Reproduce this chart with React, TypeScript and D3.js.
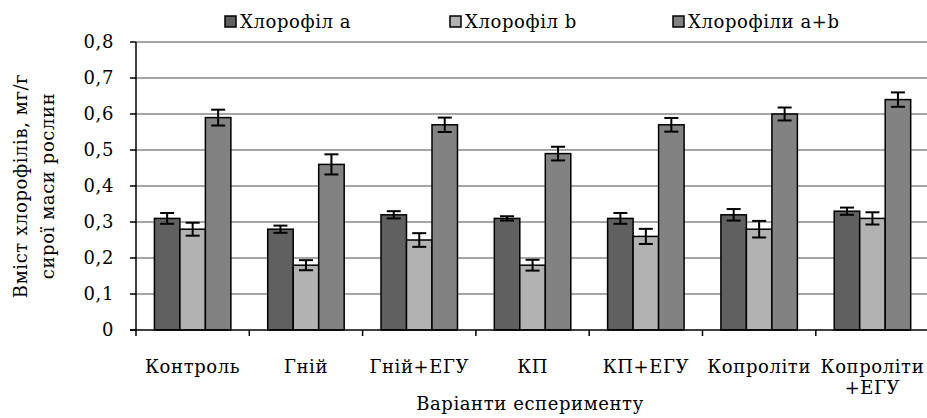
import React from "react";
import * as d3 from "d3";

// Chlorophyll content by experiment variant, mg/g of fresh plant mass
const categories = ["Контроль", "Гній", "Гній+ЕГУ", "КП", "КП+ЕГУ", "Копроліти", "Копроліти\n+ЕГУ"];
const seriesNames = ["Хлорофіл а", "Хлорофіл b", "Хлорофіли a+b"];
const chlA = [0.31, 0.28, 0.32, 0.31, 0.31, 0.32, 0.33];
const chlB = [0.28, 0.18, 0.25, 0.18, 0.26, 0.28, 0.31];
const chlAB = [0.59, 0.46, 0.57, 0.49, 0.57, 0.6, 0.64];
const errA = [0.015, 0.01, 0.01, 0.006, 0.015, 0.016, 0.01];
const errB = [0.018, 0.014, 0.019, 0.015, 0.021, 0.023, 0.017];
const errAB = [0.022, 0.028, 0.02, 0.019, 0.019, 0.018, 0.02];
const yTicks = [0, 0.1, 0.2, 0.3, 0.4, 0.5, 0.6, 0.7, 0.8];
const colors = ["#606060", "#b2b2b2", "#828282"];

const W = 927;
const H = 418;
const FONT = "DejaVu Serif";
const FS = 18;
const LS = 0.6;

export default function App() {
  const left = 136;
  const top = 42;
  const bottom = 330;
  const step = 113.3;
  const right = left + step * categories.length;

  const y = d3.scaleLinear().domain([0, 0.8]).range([bottom, top]);
  const x = d3
    .scaleBand<string>()
    .domain(categories)
    .range([left, right])
    .paddingInner(0.325)
    .paddingOuter(0.1625);
  const xs = d3.scaleBand<number>().domain([0, 1, 2]).range([0, x.bandwidth()]);

  const values = [chlA, chlB, chlAB];
  const errors = [errA, errB, errAB];
  const fmt = (v: number) => (v === 0 ? "0" : v.toFixed(1).replace(".", ","));

  const legendX = [225, 450, 673];
  const textStyle = { fontFamily: FONT, fontSize: FS, letterSpacing: LS };

  return (
    <svg
      width={W}
      height={H}
      style={{ position: "absolute", left: 0, top: 0, background: "#fff" }}
    >
      {/* gridlines */}
      {yTicks.slice(1).map((t) => (
        <line key={t} x1={left} x2={right} y1={y(t)} y2={y(t)} stroke="#a6a6a6" strokeWidth={2} />
      ))}

      {/* bars */}
      {categories.map((c, i) => (
        <g key={c} transform={`translate(${x(c)},0)`}>
          {values.map((vals, s) => (
            <rect
              key={s}
              x={xs(s)}
              y={y(vals[i])}
              width={xs.bandwidth()}
              height={bottom - y(vals[i])}
              fill={colors[s]}
              stroke="#000"
              strokeWidth={1.5}
            />
          ))}
        </g>
      ))}

      {/* error bars */}
      {categories.map((c, i) =>
        values.map((vals, s) => {
          const cx = (x(c) as number) + (xs(s) as number) + xs.bandwidth() / 2;
          const hi = y(vals[i] + errors[s][i]);
          const lo = y(vals[i] - errors[s][i]);
          return (
            <g key={`${c}-${s}`} stroke="#000" strokeWidth={2}>
              <line x1={cx} x2={cx} y1={hi} y2={lo} />
              <line x1={cx - 7} x2={cx + 7} y1={hi} y2={hi} />
              <line x1={cx - 7} x2={cx + 7} y1={lo} y2={lo} />
            </g>
          );
        })
      )}

      {/* axes */}
      <line x1={left} x2={left} y1={top} y2={bottom} stroke="#000" strokeWidth={1.5} />
      <line x1={left - 6} x2={right} y1={bottom} y2={bottom} stroke="#000" strokeWidth={1.5} />
      {yTicks.map((t) => (
        <g key={t}>
          <line x1={left - 6} x2={left} y1={y(t)} y2={y(t)} stroke="#000" strokeWidth={1.5} />
          <text x={114} y={y(t) + 6} textAnchor="end" style={textStyle}>
            {fmt(t)}
          </text>
        </g>
      ))}
      {d3.range(categories.length + 1).map((k) => (
        <line
          key={k}
          x1={left + k * x.step()}
          x2={left + k * x.step()}
          y1={bottom}
          y2={bottom + 6}
          stroke="#000"
          strokeWidth={1.5}
        />
      ))}

      {/* category labels */}
      {categories.map((c) => {
        const cx = (x(c) as number) + x.bandwidth() / 2;
        return (
          <text key={c} x={cx} y={373} textAnchor="middle" style={textStyle}>
            {c.split("\n").map((line, j) => (
              <tspan key={j} x={cx} dy={j === 0 ? 0 : 21}>
                {line}
              </tspan>
            ))}
          </text>
        );
      })}

      {/* axis titles */}
      <text x={530} y={410} textAnchor="middle" style={textStyle}>
        Варіанти есперименту
      </text>
      <text transform="translate(27,186) rotate(-90)" textAnchor="middle" style={textStyle}>
        Вміст хлорофілів, мг/г
      </text>
      <text transform="translate(54,186) rotate(-90)" textAnchor="middle" style={textStyle}>
        сирої маси рослин
      </text>

      {/* legend */}
      {seriesNames.map((n, s) => (
        <g key={n}>
          <rect x={legendX[s]} y={16} width={11} height={11} fill={colors[s]} stroke="#000" strokeWidth={1.5} />
          <text x={legendX[s] + 15} y={28} style={textStyle}>
            {n}
          </text>
        </g>
      ))}
    </svg>
  );
}
